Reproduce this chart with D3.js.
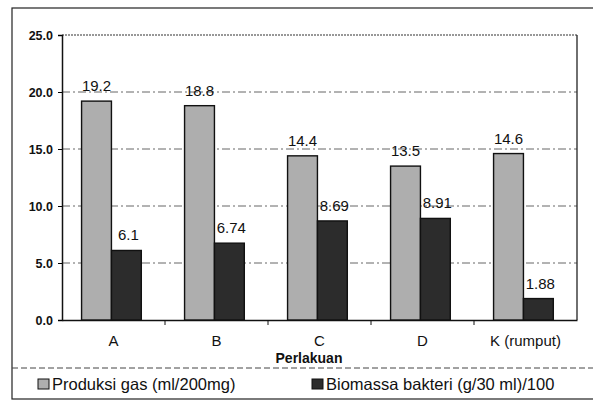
<!DOCTYPE html>
<html><head><meta charset="utf-8">
<script src="https://cdn.jsdelivr.net/npm/d3@7"></script>
<style>body{margin:0;background:#fff;} text{font-family:"Liberation Sans",Arial,sans-serif;}</style>
</head><body><svg id="c" width="593" height="410"></svg>
<script>
const categories = ["A","B","C","D","K (rumput)"];
const gasValues = [19.2, 18.8, 14.4, 13.5, 14.6];
const biomassValues = [6.1, 6.74, 8.69, 8.91, 1.88];
const gasLabels = ["19.2","18.8","14.4","13.5","14.6"];
const biomassLabels = ["6.1","6.74","8.69","8.91","1.88"];
const yTicks = [0,5,10,15,20,25];
const seriesNames = ["Produksi gas (ml/200mg)","Biomassa bakteri (g/30 ml)/100"];
const xTitle = "Perlakuan";

const svg = d3.select("#c");
const m = {l:62, r:577, t:35, b:320};
const x = d3.scaleBand().domain(categories).range([m.l,m.r]).paddingInner(0).paddingOuter(0);
const y = d3.scaleLinear().domain([0,25]).range([m.b,m.t]);

// outer frame
svg.append("rect").attr("x",12).attr("y",8).attr("width",600).attr("height",391)
  .attr("fill","none").attr("stroke","#222").attr("stroke-width",1.2);
svg.append("line").attr("x1",12).attr("x2",593).attr("y1",368).attr("y2",368)
  .attr("stroke","#444").attr("stroke-dasharray","6,3");

// grid
svg.append("g").selectAll("line").data(yTicks.filter(d=>d>0&&d<25)).join("line")
  .attr("x1",m.l).attr("x2",m.r).attr("y1",d=>y(d)).attr("y2",d=>y(d))
  .attr("stroke","#555").attr("stroke-dasharray","8,3,2,3").attr("stroke-width",0.9);
svg.append("line").attr("x1",m.l).attr("x2",m.r).attr("y1",y(25)).attr("y2",y(25))
  .attr("stroke","#333").attr("stroke-dasharray","2,1").attr("stroke-width",1.2);
svg.append("line").attr("x1",m.r).attr("x2",m.r).attr("y1",y(25)).attr("y2",y(0))
  .attr("stroke","#222").attr("stroke-width",1.3);

// y axis
const ya = svg.append("g").attr("transform",`translate(${m.l},0)`)
  .call(d3.axisLeft(y).tickValues(yTicks).tickFormat(d3.format(".1f")).tickSize(4).tickPadding(5));
ya.select(".domain").attr("stroke","#111").attr("stroke-width",1.5);
ya.selectAll("text").attr("font-size",12.5).attr("font-weight","bold").attr("fill","#111");

// x axis
const xa = svg.append("g").attr("transform",`translate(0,${m.b})`)
  .call(d3.axisBottom(x).tickSize(0).tickPadding(15));
xa.select(".domain").attr("stroke","#111").attr("stroke-width",1.5);
xa.selectAll("text").attr("font-size",15).attr("fill","#111");
svg.append("g").selectAll("line").data(categories.slice(1)).join("line")
  .attr("x1",d=>x(d)).attr("x2",d=>x(d)).attr("y1",m.b).attr("y2",m.b+5).attr("stroke","#111");

svg.append("text").attr("x",309).attr("y",363).attr("text-anchor","middle")
  .attr("font-size",14).attr("font-weight","bold").attr("fill","#111").text(xTitle);

// bars
const bw = x.bandwidth()*0.29;
const off = x.bandwidth()*0.19;
const colors = ["#aeaeae","#2c2c2c"];
const g = svg.append("g");
g.selectAll("rect.gas").data(gasValues).join("rect").attr("class","gas")
  .attr("x",(d,i)=>x(categories[i])+off).attr("y",d=>y(d)).attr("width",bw).attr("height",d=>y(0)-y(d))
  .attr("fill",colors[0]).attr("stroke","#111").attr("stroke-width",1.4);
g.selectAll("rect.bio").data(biomassValues).join("rect").attr("class","bio")
  .attr("x",(d,i)=>x(categories[i])+off+bw).attr("y",d=>y(d)).attr("width",bw).attr("height",d=>y(0)-y(d))
  .attr("fill",colors[1]).attr("stroke","#111").attr("stroke-width",1.4);

g.selectAll("text.gl").data(gasValues).join("text").attr("class","gl")
  .attr("x",(d,i)=>x(categories[i])+off+bw/2).attr("y",d=>y(d)-10).attr("text-anchor","middle")
  .attr("font-size",15).attr("fill","#111").text((d,i)=>gasLabels[i]);
g.selectAll("text.bl").data(biomassValues).join("text").attr("class","bl")
  .attr("x",(d,i)=>x(categories[i])+off+bw*1.5+2).attr("y",d=>y(d)-10).attr("text-anchor","middle")
  .attr("font-size",15).attr("fill","#111").text((d,i)=>biomassLabels[i]);

// legend
const lx = [38, 312];
seriesNames.forEach((s,i)=>{
  svg.append("rect").attr("x",lx[i]).attr("y",379).attr("width",11).attr("height",10)
    .attr("fill",colors[i]).attr("stroke","#111").attr("stroke-width",1);
  svg.append("text").attr("x",lx[i]+14).attr("y",390).attr("font-size",16.5).attr("fill","#111").text(s);
});
</script></body></html>
